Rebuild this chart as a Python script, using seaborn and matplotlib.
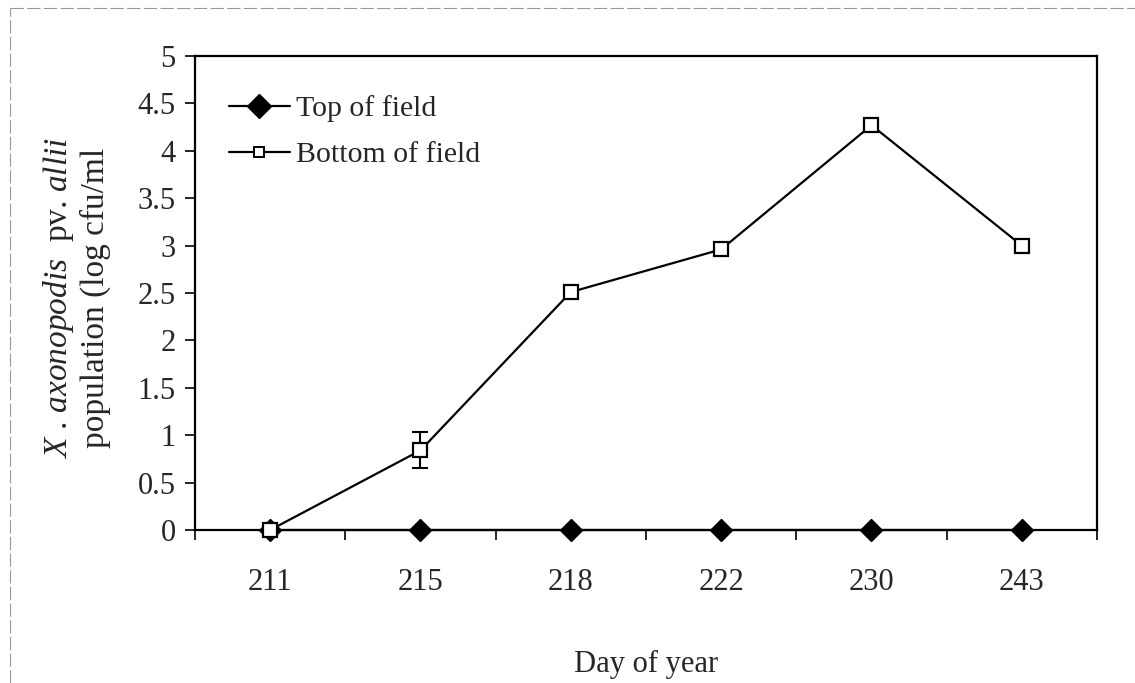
import matplotlib
matplotlib.use("Agg")
import matplotlib.pyplot as plt
import seaborn as sns
import pandas as pd
import numpy as np
from matplotlib.lines import Line2D

days = ["211", "215", "218", "222", "230", "243"]
top_vals = [0, 0, 0, 0, 0, 0]
bottom_vals = [0.0, 0.84, 2.51, 2.96, 4.27, 3.0]
bottom_err = [0.0, 0.19, 0.02, 0.02, 0.03, 0.03]
y_ticks = [0, 0.5, 1, 1.5, 2, 2.5, 3, 3.5, 4, 4.5, 5]
y_ticklabels = ["0", "0.5", "1", "1.5", "2", "2.5", "3", "3.5", "4", "4.5", "5"]

sns.set_theme(style="white")
plt.rcParams["font.family"] = ["Liberation Serif", "DejaVu Serif"]
plt.rcParams["mathtext.fontset"] = "custom"
plt.rcParams["mathtext.rm"] = "Liberation Serif"
plt.rcParams["mathtext.it"] = "Liberation Serif:italic"

FS_TICK = 22
FS_LEG = 21.5
FS_YLAB = 24
FS_XLAB = 22
df = pd.DataFrame({"day": days, "top": top_vals, "bottom": bottom_vals})

fig = plt.figure(figsize=(11.35, 6.83), dpi=100)
ax = fig.add_axes([195 / 1135, 1 - 530 / 683, (1097 - 195) / 1135, (530 - 56) / 683])

sns.pointplot(data=df, x="day", y="top", order=days, ax=ax, color="black",
              marker="D", markersize=11, linewidth=1.6, errorbar=None,
              markeredgewidth=1, clip_on=False, label="Top of field")

idx = np.arange(len(days))
err = np.array(bottom_err)
vals = np.array(bottom_vals)
mask = err > 0.05
ax.errorbar(idx[mask], vals[mask], yerr=err[mask], fmt="none",
            ecolor="black", elinewidth=1.5, capsize=5.5, capthick=1.5, zorder=3)

sns.pointplot(data=df, x="day", y="bottom", order=days, ax=ax, color="black",
              marker="s", markersize=9.5, linewidth=1.6, errorbar=None,
              markerfacecolor="white", markeredgewidth=1.6, clip_on=False,
              label="Bottom of field")
ax.lines[-1].set_zorder(4)

ax.set_xlim(-0.5, len(days) - 0.5)
ax.set_ylim(0, 5)
ax.set_yticks(y_ticks)
ax.set_yticklabels(y_ticklabels)
ax.set_xticks(np.arange(-0.5, len(days)), minor=False)
ax.set_xticklabels([""] * (len(days) + 1))
ax.set_xticks(idx, minor=True)
ax.set_xticklabels(days, minor=True)
ax.tick_params(axis="x", which="major", direction="out", length=7, width=1.2, color="black", bottom=True)
ax.tick_params(axis="x", which="minor", length=0, pad=27, labelsize=FS_TICK)
ax.tick_params(axis="y", direction="out", length=7, width=1.2, color="black", left=True, labelsize=FS_TICK, pad=7)
for s in ax.spines.values():
    s.set_visible(True)
    s.set_color("black")
    s.set_linewidth(1.6)

ax.set_xlabel("")
ax.set_ylabel("")
fig.text(646 / 1135, 1 - 664 / 683, "Day of year", ha="center", va="center", fontsize=FS_XLAB)
fig.text(59 / 1135, 1 - 298 / 683,
         r"$\mathit{X}$ . $\mathit{axonopodis}$  pv. $\mathit{allii}$",
         rotation=90, ha="center", va="center", fontsize=FS_YLAB)
fig.text(95 / 1135, 1 - 298 / 683, "population (log cfu/ml",
         rotation=90, ha="center", va="center", fontsize=FS_YLAB)

handles = [
    Line2D([], [], color="black", marker="D", markersize=12, linewidth=1.6),
    Line2D([], [], color="black", marker="s", markersize=7, markerfacecolor="white",
           markeredgewidth=1.4, linewidth=1.6),
]
ax.legend(handles, ["Top of field", "Bottom of field"], loc="upper left",
          bbox_to_anchor=(0.024, 0.942), frameon=False, fontsize=FS_LEG,
          handlelength=2.07, handletextpad=0.2, labelspacing=0.64, borderaxespad=0)

# outer chart border (top and left)
fig.add_artist(Line2D([10 / 1135, 1], [1 - 8 / 683, 1 - 8 / 683], transform=fig.transFigure,
                      color="#999999", linewidth=0.8, linestyle=(0, (12, 3))))
fig.add_artist(Line2D([10 / 1135, 10 / 1135], [0, 1 - 8 / 683], transform=fig.transFigure,
                      color="#999999", linewidth=0.8, linestyle=(0, (12, 3))))

fig.savefig("out.png", dpi=100)
